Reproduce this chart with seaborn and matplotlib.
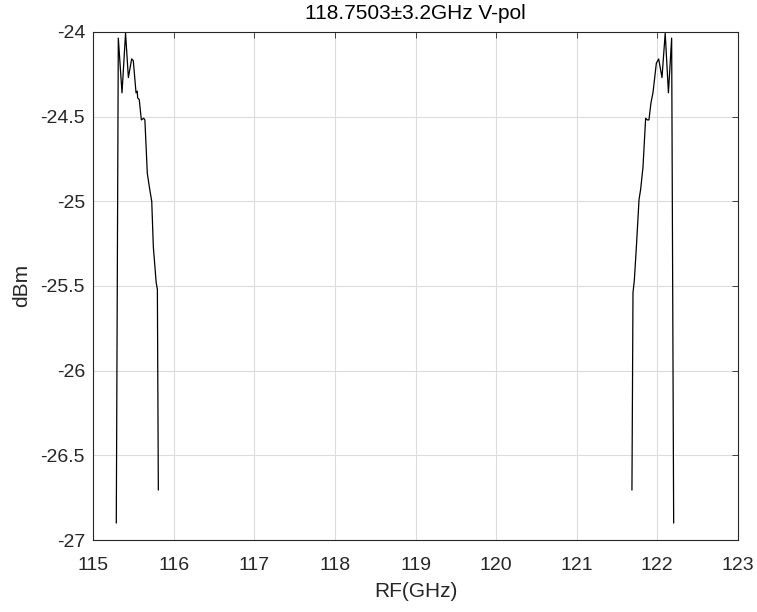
import numpy as np
import pandas as pd
import matplotlib
matplotlib.use("Agg")
import matplotlib.pyplot as plt
import seaborn as sns

# Lower sideband trace
lsb_freq = [115.285, 115.31, 115.356, 115.40, 115.435, 115.476, 115.496, 115.53, 115.545, 115.55,
            115.57, 115.596, 115.625, 115.64, 115.67, 115.70, 115.725, 115.745, 115.78, 115.795, 115.807]
lsb_dbm = [-26.9, -24.037, -24.36, -24.008, -24.27, -24.16, -24.17, -24.36, -24.35, -24.39,
           -24.40, -24.52, -24.51, -24.52, -24.835, -24.93, -25.0, -25.27, -25.48, -25.52, -26.705]
# Upper sideband trace
usb_freq = [121.687, 121.70, 121.717, 121.742, 121.775, 121.795, 121.824, 121.857, 121.878, 121.898,
            121.923, 121.948, 121.99, 122.019, 122.06, 122.10, 122.14, 122.18, 122.205]
usb_dbm = [-26.705, -25.54, -25.465, -25.27, -24.99, -24.93, -24.80, -24.51, -24.52, -24.52,
           -24.42, -24.36, -24.185, -24.16, -24.27, -24.008, -24.36, -24.037, -26.9]

x_ticks = [115, 116, 117, 118, 119, 120, 121, 122, 123]
y_ticks = [-27, -26.5, -26, -25.5, -25, -24.5, -24]
y_tick_labels = ["-27", "-26.5", "-26", "-25.5", "-25", "-24.5", "-24"]

df = pd.DataFrame({
    "freq": lsb_freq + usb_freq,
    "dbm": lsb_dbm + usb_dbm,
    "side": ["L"] * len(lsb_freq) + ["U"] * len(usb_freq),
})

sns.set_style("white")
plt.rcParams["font.family"] = ["Liberation Sans", "DejaVu Sans"]

fig = plt.figure(figsize=(7.57, 6.12), dpi=100)
ax = fig.add_axes([0.1233, 0.1176, 0.8512, 0.8304])

sns.lineplot(data=df, x="freq", y="dbm", units="side", estimator=None, sort=False,
             color="black", linewidth=0.9, ax=ax)

ax.set_xlim(115, 123)
ax.set_ylim(-27, -24)
ax.set_xticks(x_ticks)
ax.set_xticklabels([str(t) for t in x_ticks])
ax.set_yticks(y_ticks)
ax.set_yticklabels(y_tick_labels)
ax.grid(True, color="#dcdcdc", linewidth=0.8)
ax.set_axisbelow(True)
for s in ax.spines.values():
    s.set_visible(True)
    s.set_color("#262626")
    s.set_linewidth(0.8)
ax.tick_params(direction="in", length=4, width=0.6, colors="#262626",
               labelsize=14, top=True, right=True, labelcolor="#262626")
ax.tick_params(axis="x", pad=12)
ax.tick_params(axis="y", pad=6)
ax.set_xlabel("RF(GHz)", fontsize=15, color="#262626", labelpad=6)
ax.set_ylabel("dBm", fontsize=15, color="#262626", labelpad=7)
ax.set_title("118.7503±3.2GHz V-pol", fontsize=15, color="black", pad=9)

fig.savefig("out.png", dpi=100)
